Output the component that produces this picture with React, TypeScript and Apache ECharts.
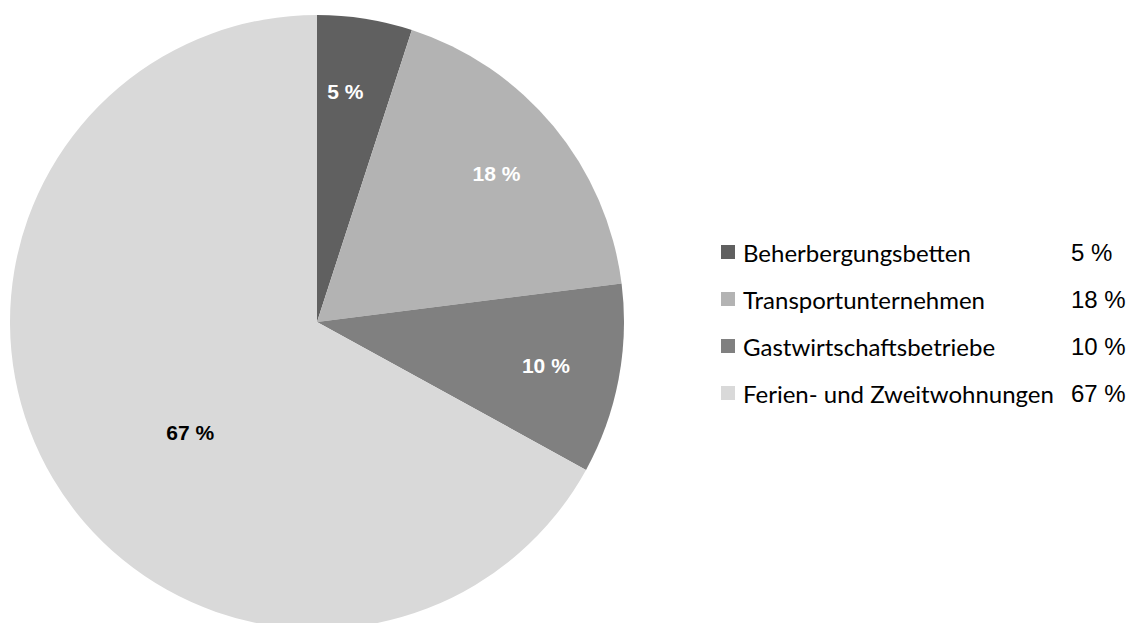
import React, { useEffect, useRef } from "react";
import * as echarts from "echarts";

const categories = [
  "Beherbergungsbetten",
  "Transportunternehmen",
  "Gastwirtschaftsbetriebe",
  "Ferien- und Zweitwohnungen",
];
const values = [5, 18, 10, 67];
const colors = ["#606060", "#b3b3b3", "#808080", "#d9d9d9"];

export default function App() {
  const ref = useRef<HTMLDivElement>(null);
  useEffect(() => {
    if (!ref.current) return;
    const chart = echarts.init(ref.current, undefined, { renderer: "svg" });
    const labelFont = {
      fontFamily: "Liberation Sans",
      fontSize: 21,
      fontWeight: "bold" as const,
    };
    chart.setOption({
      animation: false,
      backgroundColor: "#ffffff",
      legend: {
        orient: "vertical",
        left: 716,
        top: 235,
        icon: "rect",
        itemWidth: 14,
        itemHeight: 14,
        itemGap: 17,
        selectedMode: false,
        data: categories,
        formatter: (name: string) => {
          const i = categories.indexOf(name);
          return `{n|${name}}{v|${values[i]} %}`;
        },
        textStyle: {
          rich: {
            n: {
              fontFamily: "Lato",
              fontSize: 24,
              color: "#000",
              width: 328,
              lineHeight: 30,
              padding: [0, 0, 0, 3],
            },
            v: {
              fontFamily: "Liberation Sans",
              fontSize: 24,
              color: "#000",
              lineHeight: 30,
            },
          },
        },
      },
      series: [
        {
          type: "pie",
          center: [317, 322],
          radius: [0, 307],
          startAngle: 90,
          clockwise: true,
          silent: true,
          emphasis: { disabled: true },
          labelLine: { show: false },
          data: categories.map((name, i) => ({
            name,
            value: values[i],
            itemStyle: { color: colors[i] },
            label:
              i === 3
                ? { show: true, position: "inside", color: "#000", offset: [8, 31], formatter: "{c} %", ...labelFont }
                : { show: false },
          })),
        },
        {
          type: "pie",
          center: [317, 322],
          radius: [153, 307],
          startAngle: 90,
          clockwise: true,
          silent: true,
          emphasis: { disabled: true },
          labelLine: { show: false },
          itemStyle: { color: "rgba(0,0,0,0)" },
          data: categories.map((name, i) => ({
            name,
            value: values[i],
            itemStyle: { color: "rgba(0,0,0,0)" },
            label:
              i < 3
                ? {
                    show: true,
                    position: "inside",
                    color: "#fff",
                    formatter: "{c} %",
                    offset: i === 0 ? [-8, 0] : [0, 0],
                    ...labelFont,
                  }
                : { show: false },
          })),
        },
      ],
    });
    chart.setOption({ legend: { itemGap: 23 } });
    return () => chart.dispose();
  }, []);
  return (
    <div
      ref={ref}
      style={{ position: "absolute", left: 0, top: 0, width: 1132, height: 623 }}
    />
  );
}
